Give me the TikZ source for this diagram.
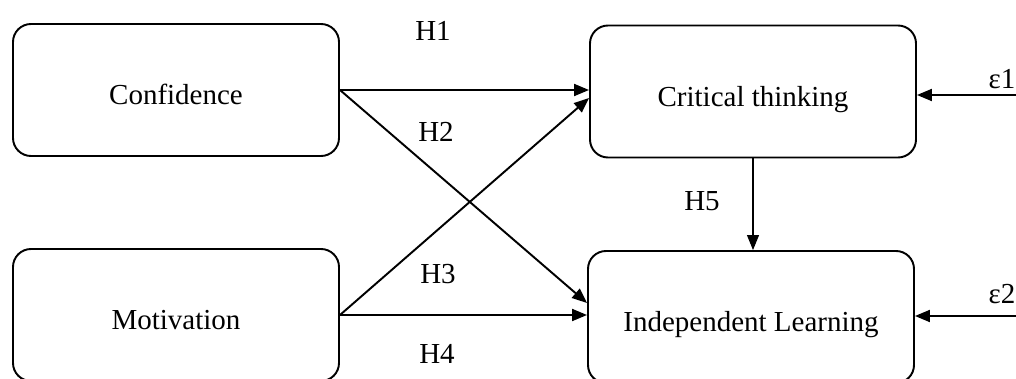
\documentclass[tikz,border=0pt]{standalone}
\usepackage{fontspec}
\setmainfont{Liberation Serif}
\usetikzlibrary{arrows.meta}

\tikzset{
    box/.style={draw, line width=1.1pt, rounded corners=0.36cm, minimum width=6.52cm, minimum height=2.64cm, text height=18pt, text depth=1pt, font=\fontsize{16.5}{20}\selectfont},
    hyp/.style={line width=1.1pt, -{Triangle[length=0.3cm,width=0.24cm]}},
    lbl/.style={font=\fontsize{16.5}{20}\selectfont}
}

\begin{document}
\begin{tikzpicture}
            \useasboundingbox (0, 0) rectangle (20.32, 7.56);

            % Boxen
            \node[box] (conf) at (3.52, 5.76) {Confidence};
            \node[box] (mot) at (3.52, 1.26) {Motivation};
            \node[box] (crit) at (15.06, 5.73) {Critical thinking};
            \node[box] (ind) at (15.02, 1.22) {Independent Learning};

            % Pfeile
            \draw[hyp] (conf.east) -- (conf.east -| crit.west);
            \draw[hyp] (conf.east) -- ([yshift=0.28cm]ind.west);
            \draw[hyp] (mot.east) -- ([yshift=-0.13cm]crit.west);
            \draw[hyp] (mot.east) -- (mot.east -| ind.west);
            \draw[line width=0.6pt, -{Triangle[length=0.3cm,width=0.24cm]}] (crit.south) -- (crit.south |- ind.north);

            % Fehlerterme
            \coordinate (e1) at (20.32, 5.66);
            \coordinate (e2) at (20.32, 1.24);
            \draw[hyp] (e1) -- (e1 -| crit.east);
            \draw[hyp] (e2) -- (e2 -| ind.east);

            % Beschriftung
            \node[lbl] (h1) at (8.66, 6.94) {H1};
            \node[lbl] (h2) at (8.72, 4.92) {H2};
            \node[lbl] (h3) at (8.76, 2.08) {H3};
            \node[lbl] (h4) at (8.74, 0.48) {H4};
            \node[lbl] (h5) at (14.04, 3.54) {H5};
            \node[lbl] (eps1) at (20.04, 5.98) {ε1};
            \node[lbl] (eps2) at (20.04, 1.68) {ε2};
        \end{tikzpicture}
\end{document}
